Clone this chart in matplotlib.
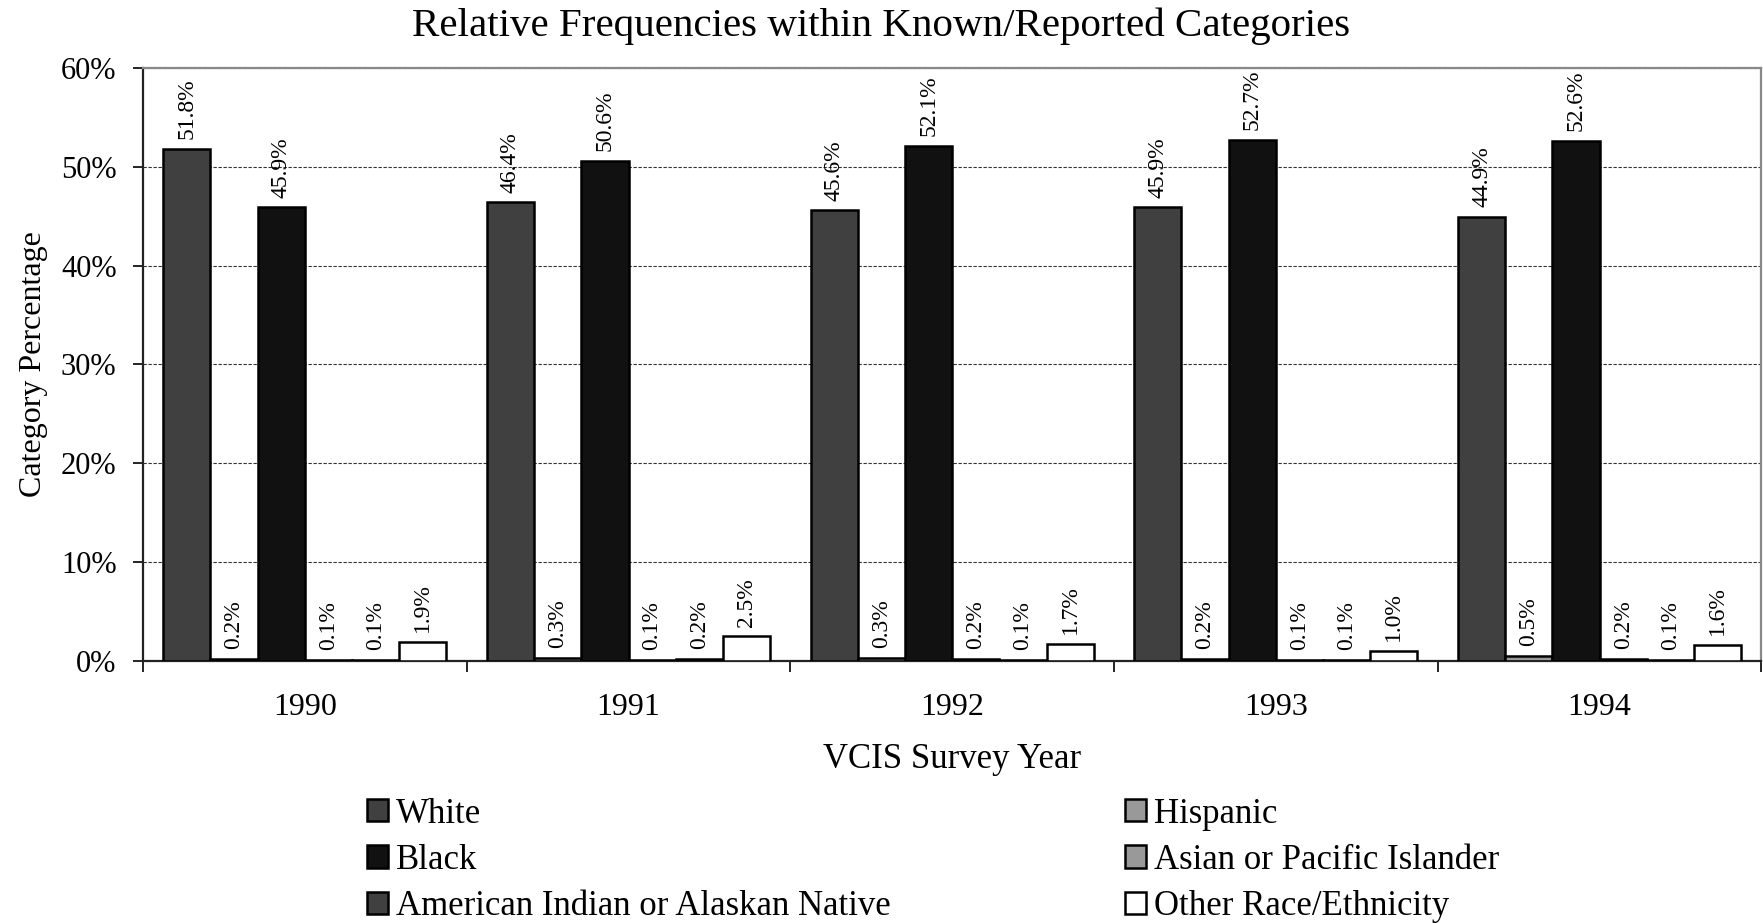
import numpy as np
import matplotlib.pyplot as plt
from matplotlib.ticker import PercentFormatter

plt.rcParams['font.family'] = ['Liberation Serif', 'DejaVu Serif']

years = ['1990', '1991', '1992', '1993', '1994']
series = ['White', 'Hispanic', 'Black', 'Asian or Pacific Islander',
          'American Indian or Alaskan Native', 'Other Race/Ethnicity']
white = [51.8, 46.4, 45.6, 45.9, 44.9]
hispanic = [0.2, 0.3, 0.3, 0.2, 0.5]
black = [45.9, 50.6, 52.1, 52.7, 52.6]
asian = [0.1, 0.1, 0.2, 0.1, 0.2]
amind = [0.1, 0.2, 0.1, 0.1, 0.1]
other = [1.9, 2.5, 1.7, 1.0, 1.6]
values = [white, hispanic, black, asian, amind, other]
colors = ['#404040', '#999999', '#111111', '#999999', '#404040', '#ffffff']

fig = plt.figure(figsize=(17.63, 9.23), dpi=100)
ax = fig.add_axes([0.0811, 0.2839, 0.918, 0.6425])

x = np.arange(len(years))
bw = 0.875 / 6
bars = {}
for i, (name, vals, c) in enumerate(zip(series, values, colors)):
    pos = x - 0.4375 + bw * (i + 0.5)
    b = ax.bar(pos, vals, width=bw, color=c, edgecolor='black', linewidth=1.8,
               label=name, zorder=3)
    bars[name] = b
    for p, v in zip(pos, vals):
        ax.annotate(f'{v:.1f}%', (p, v), xytext=(0, 7), textcoords='offset points',
                    rotation=90, ha='center', va='bottom', fontsize=17)

ax.set_xlim(-0.5, 4.5)
ax.set_ylim(0, 60)
ax.yaxis.set_major_formatter(PercentFormatter(decimals=0))
ax.set_yticks(range(0, 61, 10))
ax.tick_params(axis='y', labelsize=22, direction='out', length=7, width=1.2, pad=12)
ax.set_xticks(x)
ax.set_xticklabels(years, fontsize=23)
ax.tick_params(axis='x', length=0, pad=23)
ax.set_xticks(np.arange(-0.5, 5, 1), minor=True)
ax.tick_params(axis='x', which='minor', length=8, width=1.2, direction='out')
ax.grid(axis='y', linestyle=(0, (3, 1.5)), color='#333333', linewidth=0.8, zorder=0)

for s in ['left', 'bottom']:
    ax.spines[s].set_linewidth(1.6)
    ax.spines[s].set_color('#222222')
for s in ['top', 'right']:
    ax.spines[s].set_linewidth(1.6)
    ax.spines[s].set_color('#888888')

ax.set_xlabel('VCIS Survey Year', fontsize=25, labelpad=15.5)
ax.set_ylabel('Category Percentage', fontsize=23, labelpad=9)
fig.text(0.5, 0.972, 'Relative Frequencies within Known/Reported Categories',
         ha='center', va='center', fontsize=29.5)

left_col = ['White', 'Black', 'American Indian or Alaskan Native']
right_col = ['Hispanic', 'Asian or Pacific Islander', 'Other Race/Ethnicity']
for names, x0 in [(left_col, 0.208), (right_col, 0.638)]:
    fig.legend([bars[n] for n in names], names, loc='center left',
               bbox_to_anchor=(x0, 0.068), frameon=False, fontsize=25,
               handlelength=0.6, handleheight=0.6, handletextpad=0.25,
               labelspacing=0.38, borderpad=0, borderaxespad=0)

fig.savefig('out.png', dpi=100)
